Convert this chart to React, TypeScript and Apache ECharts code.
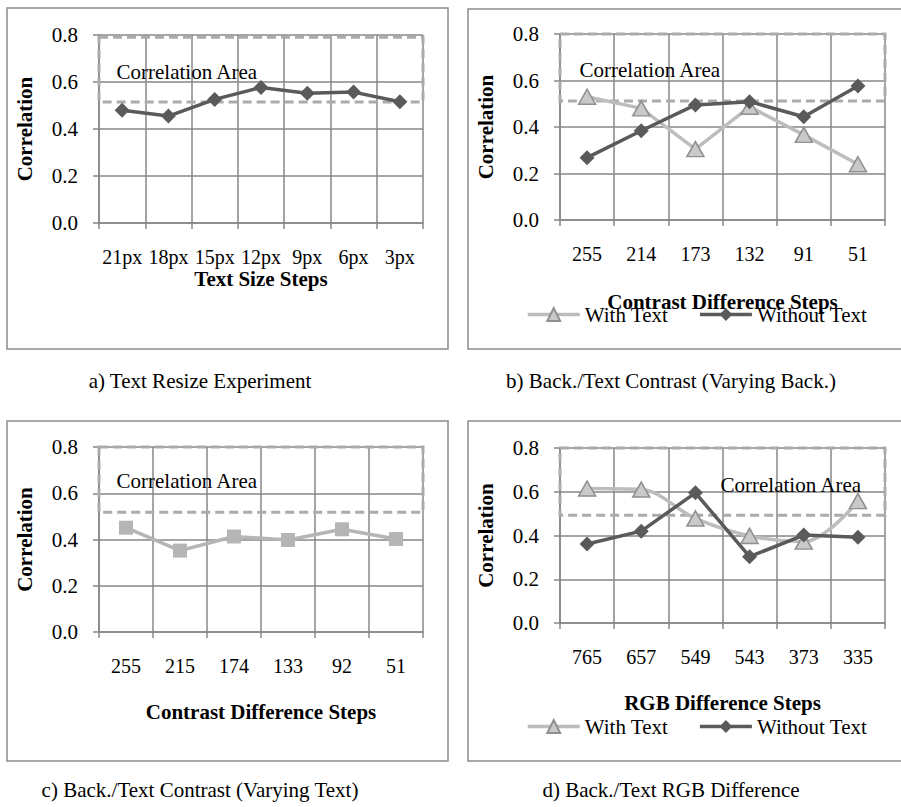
import React, { useEffect, useRef } from "react";
import * as echarts from "echarts";

const catsA = ["21px", "18px", "15px", "12px", "9px", "6px", "3px"];
const valsA = [0.48, 0.455, 0.526, 0.577, 0.552, 0.557, 0.516];

const catsB = ["255", "214", "173", "132", "91", "51"];
const withB = [0.53, 0.48, 0.305, 0.487, 0.366, 0.24];
const withoutB = [0.268, 0.384, 0.495, 0.509, 0.444, 0.576];

const catsC = ["255", "215", "174", "133", "92", "51"];
const valsC = [0.451, 0.352, 0.413, 0.398, 0.444, 0.402];

const catsD = ["765", "657", "549", "543", "373", "335"];
const withD = [0.615, 0.61, 0.478, 0.398, 0.372, 0.557];
const withoutD = [0.361, 0.42, 0.595, 0.303, 0.402, 0.392];

const areaA = [0.515, 0.79];
const areaB = [0.512, 0.8];
const areaC = [0.518, 0.8];
const areaD = [0.493, 0.8];

const xTitles = ["Text Size Steps", "Contrast Difference Steps", "Contrast Difference Steps", "RGB Difference Steps"];
const captions = [
  "a) Text Resize Experiment",
  "b) Back./Text Contrast (Varying Back.)",
  "c) Back./Text Contrast (Varying Text)",
  "d) Back./Text RGB Difference",
];
const legendNames = ["With Text", "Without Text"];

const FONT = "Liberation Serif";
const GRID = "#878787";
const DARK = "#5a5a5a";
const LIGHT = "#bdbdbd";
const DASH = "#ababab";

export default function App() {
  const ref = useRef<HTMLDivElement>(null);
  useEffect(() => {
    if (!ref.current) return;
    const chart = echarts.init(ref.current, undefined, { renderer: "svg" });

    const grids = [
      { left: 99, top: 35, width: 324, height: 188 },
      { left: 560, top: 34, width: 325, height: 186 },
      { left: 99, top: 447, width: 324, height: 185 },
      { left: 560, top: 448, width: 325, height: 175 },
    ];
    const cats = [catsA, catsB, catsC, catsD];
    const xNameGaps = [45, 71, 69, 69];

    const xAxis = grids.map((_, i) => ({
      type: "category",
      gridIndex: i,
      data: cats[i],
      boundaryGap: true,
      name: xTitles[i],
      nameLocation: "middle",
      nameGap: xNameGaps[i],
      nameTextStyle: { fontFamily: FONT, fontSize: 21, fontWeight: "bold", color: "#000" },
      axisLine: { show: true, lineStyle: { color: GRID, width: 1.5 } },
      axisTick: { show: true, length: 6, lineStyle: { color: GRID, width: 1.5 } },
      axisLabel: { fontFamily: FONT, fontSize: 20, color: "#000", margin: 24, interval: 0 },
      splitLine: { show: true, lineStyle: { color: GRID, width: 1.5 } },
    }));

    const yAxis = grids.map((_, i) => ({
      type: "value",
      gridIndex: i,
      min: 0,
      max: 0.8,
      interval: 0.2,
      name: "Correlation",
      nameLocation: "middle",
      nameGap: 64,
      nameRotate: 90,
      nameTextStyle: { fontFamily: FONT, fontSize: 21, fontWeight: "bold", color: "#000" },
      axisLine: { show: true, lineStyle: { color: GRID, width: 1.5 } },
      axisTick: { show: true, length: 6, lineStyle: { color: GRID, width: 1.5 } },
      axisLabel: {
        fontFamily: FONT,
        fontSize: 21,
        color: "#000",
        margin: 21,
        formatter: (v: number) => v.toFixed(1),
      },
      splitLine: { show: true, lineStyle: { color: GRID, width: 1.5 } },
    }));

    const markArea = (range: number[], labelPos: number[]) => ({
      silent: true,
      itemStyle: {
        color: "rgba(0,0,0,0)",
        borderColor: DASH,
        borderWidth: 3,
        borderType: [9, 5],
      },
      label: {
        show: true,
        position: labelPos,
        align: "left",
        verticalAlign: "middle",
        fontFamily: FONT,
        fontSize: 21,
        color: "#000",
      },
      data: [[{ yAxis: range[1], name: "Correlation Area" }, { yAxis: range[0] }]],
    });

    const withStyle = (data: number[], idx: number, smooth: boolean | number, area: any) => ({
      name: "With Text",
      type: "line",
      xAxisIndex: idx,
      yAxisIndex: idx,
      data,
      smooth,
      symbol: "triangle",
      symbolSize: [17, 15],
      lineStyle: { color: LIGHT, width: 3.5 },
      itemStyle: { color: "#c9c9c9", borderColor: "#8f8f8f", borderWidth: 1.5 },
      z: 3,
      markArea: area,
    });
    const withoutStyle = (data: number[], idx: number) => ({
      name: "Without Text",
      type: "line",
      xAxisIndex: idx,
      yAxisIndex: idx,
      data,
      symbol: "diamond",
      symbolSize: 15,
      lineStyle: { color: DARK, width: 3.5 },
      itemStyle: { color: DARK },
      z: 4,
    });

    const series: any[] = [
      {
        name: "Text Resize",
        type: "line",
        xAxisIndex: 0,
        yAxisIndex: 0,
        data: valsA,
        symbol: "diamond",
        symbolSize: 15,
        lineStyle: { color: DARK, width: 3.5 },
        itemStyle: { color: DARK },
        markArea: markArea(areaA, [19, 36]),
      },
      withStyle(withB, 1, false, markArea(areaB, [21, 37])),
      withoutStyle(withoutB, 1),
      {
        name: "Varying Text",
        type: "line",
        xAxisIndex: 2,
        yAxisIndex: 2,
        data: valsC,
        symbol: "rect",
        symbolSize: 14,
        lineStyle: { color: "#b5b5b5", width: 3.5 },
        itemStyle: { color: "#b5b5b5" },
        markArea: markArea(areaC, [19, 35]),
      },
      withStyle(withD, 3, 0.35, markArea(areaD, [162, 38])),
      withoutStyle(withoutD, 3),
    ];

    const legendBase = {
      data: legendNames,
      orient: "horizontal",
      itemWidth: 52,
      itemHeight: 16,
      itemGap: 30,
      textStyle: { fontFamily: FONT, fontSize: 21, color: "#000" },
      lineStyle: { width: 3.5 },
      selectedMode: false,
    };

    const boxes = [
      { x: 7, y: 8, width: 441, height: 341 },
      { x: 468, y: 9, width: 440, height: 340 },
      { x: 7, y: 421, width: 441, height: 340 },
      { x: 468, y: 421, width: 440, height: 340 },
    ];
    const capPos = [
      [200, 381],
      [671, 381],
      [200, 790],
      [671, 790],
    ];

    const graphic: any[] = [
      ...boxes.map((b) => ({
        type: "rect",
        shape: b,
        style: { fill: "none", stroke: "#8c8c8c", lineWidth: 1.5 },
        silent: true,
        z: -1,
      })),
      ...captions.map((c, i) => ({
        type: "text",
        x: capPos[i][0],
        y: capPos[i][1],
        style: {
          text: c,
          fontFamily: FONT,
          fontSize: 21,
          fill: "#000",
          align: "center",
          verticalAlign: "middle",
        },
      })),
    ];

    chart.setOption({
      animation: false,
      backgroundColor: "#fff",
      grid: grids,
      xAxis,
      yAxis,
      series,
      legend: [
        { ...legendBase, left: 521, top: 299 },
        { ...legendBase, left: 521, top: 711 },
      ],
      graphic,
    } as any);

    return () => chart.dispose();
  }, []);

  return (
    <div
      ref={ref}
      style={{ position: "absolute", left: 0, top: 0, width: 901, height: 807 }}
    />
  );
}
